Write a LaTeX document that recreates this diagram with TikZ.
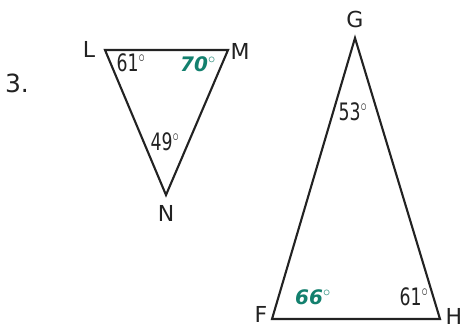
\documentclass[tikz,border=0pt]{standalone}
\usepackage{fontspec}
\setmainfont{DejaVu Sans}
\definecolor{mark}{HTML}{13806E}
\definecolor{ink}{HTML}{222222}
\begin{document}
\begin{tikzpicture}[x=1pt,y=-1pt,
  side/.style={draw=ink,line width=2.1pt,line join=miter},
  vlabel/.style={text=ink,font=\fontsize{22}{22}\selectfont,inner sep=0pt},
  angle/.style={text=ink,font=\fontsize{24}{24}\selectfont,inner sep=0pt,xscale=0.72},
  given/.style={text=mark,font=\bfseries\itshape\fontsize{20}{20}\selectfont,inner sep=0pt}]
\useasboundingbox (0,0) rectangle (466,330);
\fill[white] (0,0) rectangle (466,330);
% triangle LMN
\coordinate (L) at (105,50);
\coordinate (M) at (228,50);
\coordinate (N) at (166,195);
\draw[side] (L) -- (M) -- (N) -- cycle;
\node[vlabel,font=\fontsize{25}{25}\selectfont] (num) at (17,83) {3.};
\node[vlabel] (lL) at (89,49) {L};
\node[vlabel] (lM) at (240,51) {M};
\node[vlabel] (lN) at (166,213) {N};
\node[angle] (aL) at (131,63) {61$^{\circ}$};
\node[given] (aM) at (198,64) {70$^{\circ}$};
\node[angle] (aN) at (165,142) {49$^{\circ}$};
% triangle FGH
\coordinate (G) at (355,38);
\coordinate (F) at (272,319);
\coordinate (H) at (440,319);
\draw[side] (G) -- (H) -- (F) -- cycle;
\node[vlabel] (lG) at (355,19) {G};
\node[vlabel] (lF) at (261,314) {F};
\node[vlabel] (lH) at (454,316) {H};
\node[angle] (aG) at (353,112) {53$^{\circ}$};
\node[given] (aF) at (313,297) {66$^{\circ}$};
\node[angle] (aH) at (414,297) {61$^{\circ}$};
\end{tikzpicture}
\end{document}
